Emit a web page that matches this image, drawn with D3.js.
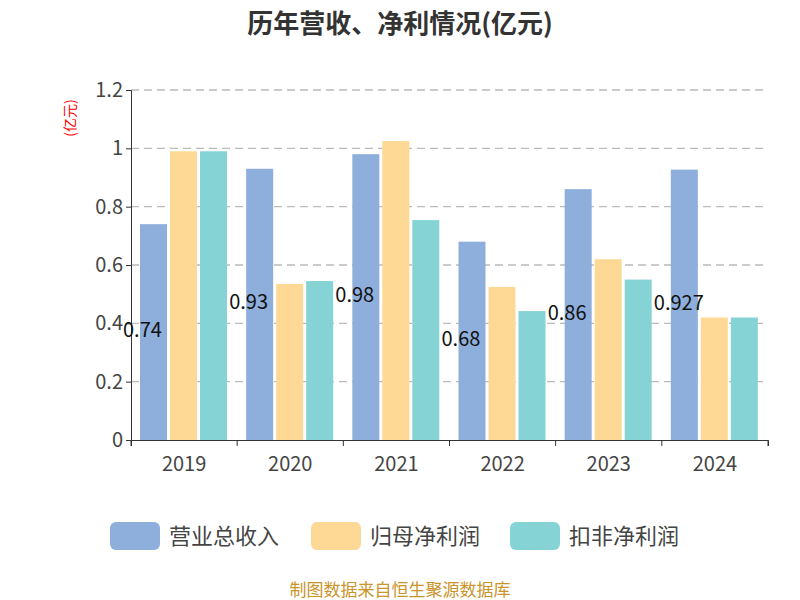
<!DOCTYPE html><html><head><meta charset="utf-8"><script src="https://cdn.jsdelivr.net/npm/d3@7"></script>
<style>body{margin:0;background:#fff}text{font-family:"Noto Sans CJK SC","Noto Sans",sans-serif}</style></head><body>
<svg id="c" width="800" height="600"></svg>
<script>
const years=["2019","2020","2021","2022","2023","2024"];
const revenue=[0.74,0.93,0.98,0.68,0.86,0.927];
const netProfit=[0.99,0.535,1.025,0.525,0.62,0.42];
const deducted=[0.99,0.545,0.754,0.442,0.55,0.42];
const revenueLabels=["0.74","0.93","0.98","0.68","0.86","0.927"];
const seriesNames=["营业总收入","归母净利润","扣非净利润"];
const colors=["#8eaedb","#fed995","#86d3d6"];
const yTicks=[0,0.2,0.4,0.6,0.8,1,1.2];
const svg=d3.select("#c");
const L=131,R=768,T=90,B=440;
const x=d3.scaleBand().domain(years).range([L,R]);
const y=d3.scaleLinear().domain([0,1.2]).range([B,T]);
svg.append("text").attr("x",400).attr("y",33).attr("text-anchor","middle").attr("font-size",26).attr("font-weight","bold").attr("fill","#333").text("历年营收、净利情况(亿元)");
svg.append("g").selectAll("line").data(yTicks.slice(1)).join("line").attr("x1",L).attr("x2",R).attr("y1",d=>y(d)).attr("y2",d=>y(d)).attr("stroke","#bbb").attr("stroke-width",1.3).attr("stroke-dasharray","8,5");
const ya=svg.append("g").attr("transform",`translate(${L},0)`).call(d3.axisLeft(y).tickValues(yTicks).tickFormat(d=>String(d)).tickSize(5));
ya.selectAll("text").attr("font-size",20).attr("fill","#444");ya.selectAll("line,path").attr("stroke","#333");
const xa=svg.append("g").attr("transform",`translate(0,${B})`).call(d3.axisBottom(x).tickSize(6).tickSizeOuter(6));
xa.selectAll("text").attr("font-size",20).attr("fill","#444").attr("dy","1.1em");xa.selectAll("line,path").attr("stroke","#333");
xa.selectAll(".tick line").attr("transform",`translate(${-x.bandwidth()/2},0)`);
xa.append("line").attr("x1",R).attr("x2",R).attr("y1",0).attr("y2",6).attr("stroke","#333");
svg.append("text").attr("transform","translate(75,118) rotate(-90)").attr("text-anchor","middle").attr("font-size",14).attr("fill","red").text("(亿元)");
const bw=27,gap=3,off=9;
[revenue,netProfit,deducted].forEach((s,i)=>{
 svg.append("g").selectAll("rect").data(s).join("rect").attr("x",(d,j)=>x(years[j])+off+i*(bw+gap)).attr("width",bw).attr("y",d=>y(d)).attr("height",d=>B-y(d)).attr("fill",colors[i]);
});
svg.append("g").selectAll("text").data(revenue).join("text").attr("x",(d,j)=>x(years[j])+off-17).attr("y",d=>(y(d)+B)/2-2).attr("dy","0.35em").attr("font-size",20).attr("fill","#111").text((d,j)=>revenueLabels[j]);
const lx=[110,311,510];
seriesNames.forEach((n,i)=>{
 svg.append("rect").attr("x",lx[i]).attr("y",522).attr("width",50).attr("height",28).attr("rx",6).attr("fill",colors[i]);
 svg.append("text").attr("x",lx[i]+59).attr("y",544).attr("font-size",22).attr("fill","#444").text(n);
});
svg.append("text").attr("x",400).attr("y",596).attr("text-anchor","middle").attr("font-size",17).attr("fill","#c9952a").text("制图数据来自恒生聚源数据库");
</script></body></html>
